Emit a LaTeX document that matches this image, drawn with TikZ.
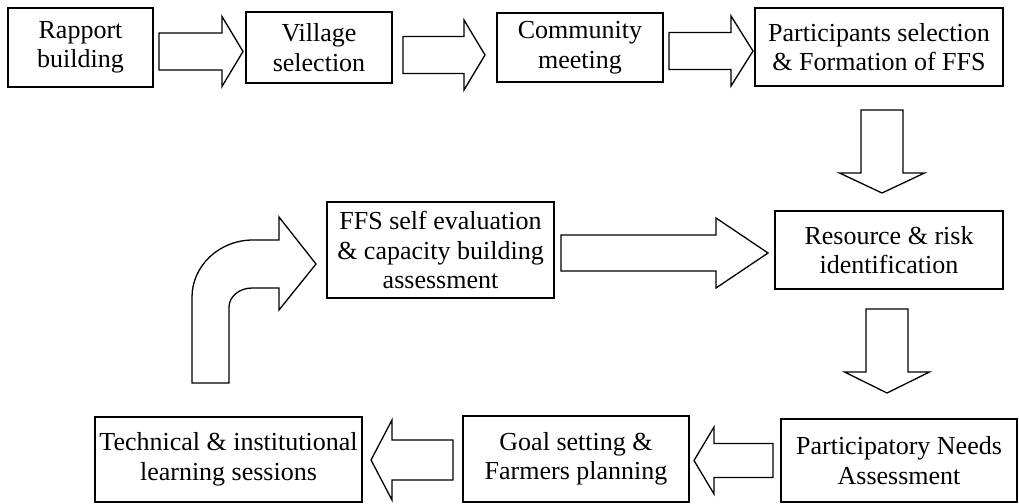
\documentclass[tikz,border=0pt]{standalone}
\usepackage{fontspec}
\setmainfont{Liberation Serif}
\begin{document}
\begin{tikzpicture}[x=1pt, y=-1pt,
      every node/.style={draw, line width=1.3pt, align=center, inner sep=0pt,
        font=\fontsize{26}{29.5}\selectfont},
      blockarrow/.style={draw, line width=1.3pt, line join=miter}
    ]
    \useasboundingbox (0,0) rectangle (1019,503);

    % Top row of steps
    \node[minimum width=145pt, minimum height=79pt] (rapport) at (80.5,47.5) {Rapport\\building};
    \node[minimum width=146pt, minimum height=71pt] (village) at (319,47.5) {Village\\selection};
    \node[minimum width=166pt, minimum height=69pt] (community) at (580,47.5) {Community\\meeting};
    \node[minimum width=248pt, minimum height=78pt] (participants) at (879,47) {Participants selection\\\& Formation of FFS};

    % Middle row
    \node[minimum width=227pt, minimum height=96pt] (ffs) at (440.5,250) {FFS self evaluation\\\& capacity building\\assessment};
    \node[minimum width=228pt, minimum height=78pt] (resource) at (889,250) {Resource \& risk\\identification};

    % Bottom row, right to left
    \node[minimum width=236pt, minimum height=83pt] (needs) at (899,460.5) {Participatory Needs\\Assessment};
    \node[minimum width=226pt, minimum height=86pt] (goal) at (576,459) {Goal setting \&\\Farmers planning};
    \node[minimum width=267pt, minimum height=85pt] (technical) at (228.5,459.5) {Technical \& institutional\\learning sessions};

    % Block arrows pointing right
    \foreach \xs/\xh/\xt/\ym in {159/222/243/51.5, 403/464/485/55, 669/731/753/51} {
      \draw[blockarrow] (\xs,\ym-18.5) -- (\xh,\ym-18.5) -- (\xh,\ym-35) -- (\xt,\ym)
        -- (\xh,\ym+35) -- (\xh,\ym+18.5) -- (\xs,\ym+18.5) -- cycle;
    }
    \draw[blockarrow] (561,235) -- (716,235) -- (716,218) -- (768,253)
      -- (716,288) -- (716,271) -- (561,271) -- cycle;

    % Block arrows pointing down
    \foreach \xm/\ys/\yh/\yt in {882/110/173/193, 887/309/372/393} {
      \draw[blockarrow] (\xm-21,\ys) -- (\xm+21,\ys) -- (\xm+21,\yh) -- (\xm+42.5,\yh)
        -- (\xm,\yt) -- (\xm-42.5,\yh) -- (\xm-21,\yh) -- cycle;
    }

    % Block arrows pointing left
    \foreach \xs/\xh/\xt/\ym/\sw/\hw in {773/714/694/460.5/17/33.5, 453/392/371/460/20/40} {
      \draw[blockarrow] (\xs,\ym-\sw) -- (\xh,\ym-\sw) -- (\xh,\ym-\hw) -- (\xt,\ym)
        -- (\xh,\ym+\hw) -- (\xh,\ym+\sw) -- (\xs,\ym+\sw) -- cycle;
    }

    % Bent arrow back up to the self evaluation
    \draw[blockarrow] (192,383) -- (192,297) .. controls (192,266) and (219,240) .. (253,240)
      -- (279,240) -- (279,217) -- (316,264) -- (279,310) -- (279,288) -- (252,288)
      .. controls (239,288) and (229,297) .. (229,307) -- (229,383) -- cycle;

    \end{tikzpicture}
\end{document}
